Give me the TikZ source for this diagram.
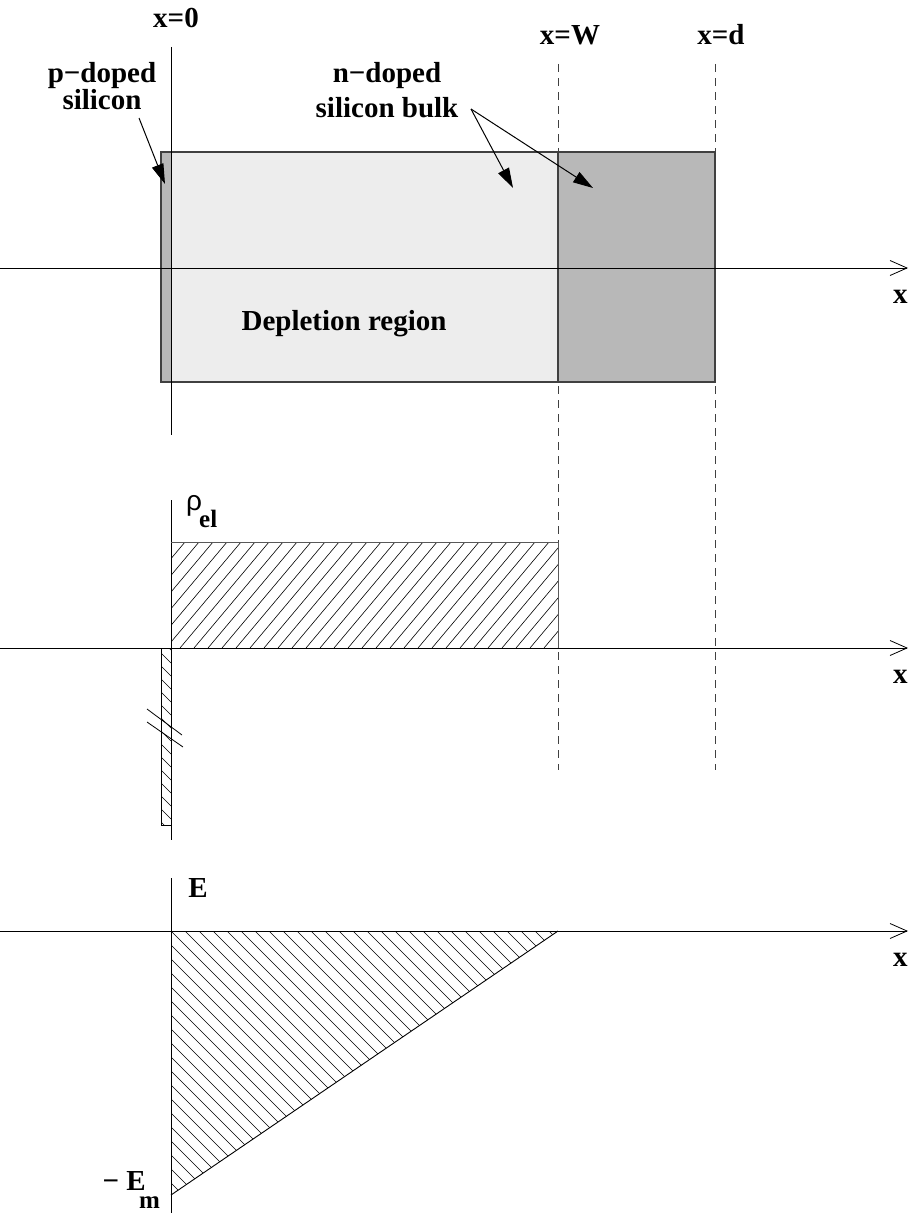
\documentclass[tikz,border=0pt]{standalone}
\usepackage{fontspec}
\setmainfont{Liberation Serif}
\newfontfamily\rhofont{Liberation Sans}
\usetikzlibrary{arrows.meta}
\tikzset{
  lbl/.style={font=\bfseries\fontsize{29}{33}\selectfont, inner sep=0pt},
  axisline/.style={line width=0.9pt, -{Straight Barb[length=17pt,width=15pt,line width=0.8pt]}},
  zeroline/.style={line width=0.9pt},
  guide/.style={line width=0.8pt, dash pattern=on 8pt off 6pt, draw=black!75},
  hatch/.style={line width=0.6pt},
  pointer/.style={line width=1pt, -{Triangle[length=20pt,width=12pt]}},
  boxedge/.style={draw=black!75, line width=1.1pt}
}
\begin{document}
\begin{tikzpicture}[x=1pt,y=-1pt]
\useasboundingbox (0,0) rectangle (909,1215);

% ---------- top: device ----------
\fill[black!28] (161,152) rectangle (171,382);
\fill[black!7] (171,152) rectangle (558,382);
\fill[black!28] (558,152) rectangle (715,382);
\draw[boxedge] (161,152) rectangle (715,382);
\draw[boxedge] (558,152) -- (558,382);

% dashed guides
\draw[guide] (558,64) -- (558,770);
\draw[guide] (715,64) -- (715,770);

% x=0 vertical lines
\draw[zeroline] (171,47) -- (171,435);
\draw[zeroline] (171,500) -- (171,840);
\draw[zeroline] (171,878) -- (171,1213);

% axes
\coordinate (a1s) at (0,268); \coordinate (a1e) at (908,268);
\coordinate (a2s) at (0,648); \coordinate (a2e) at (908,648);
\coordinate (a3s) at (0,931); \coordinate (a3e) at (908,931);
\draw[axisline] (a1s) -- (a1e);
\draw[axisline] (a2s) -- (a2e);
\draw[axisline] (a3s) -- (a3e);

% labels top
\node[lbl, anchor=base] (x0) at (176,28) {x=0};
\node[lbl, anchor=base] (xW) at (570,45) {x=W};
\node[lbl, anchor=base] (xd) at (721,45) {x=d};
\node[lbl, anchor=base west] (xl1) at (893,303) {x};
\node[lbl, anchor=base west] (xl2) at (893,683) {x};
\node[lbl, anchor=base west] (xl3) at (893,966) {x};

\node[lbl, anchor=base] (dep) at (344,330) {Depletion region};

\node[lbl, font=\bfseries\fontsize{29}{25}\selectfont, align=center, anchor=north] (pdop) at (102,62) {p−doped\\silicon};
\node[lbl, font=\bfseries\fontsize{29}{35}\selectfont, align=center, anchor=north] (ndop) at (387,62) {n−doped\\silicon bulk};

\coordinate (pstart) at (139,118);
\coordinate (ptip) at (165,184);
\draw[pointer] (pstart) -- (ptip);
\coordinate (nstart) at (471,109);
\coordinate (ntip1) at (513,188);
\coordinate (ntip2) at (593,188);
\draw[pointer] (nstart) -- (ntip1);
\draw[pointer] (nstart) -- (ntip2);

% ---------- middle: charge density ----------
\begin{scope}
  \clip (171,542) rectangle (558,648);
  \foreach \k in {0,...,36} {
    \draw[hatch] ({82+14*\k},648) -- ({82+14*\k+89},542);
  }
\end{scope}
\draw[line width=1pt, draw=black!65] (171,542) -- (558,542) -- (558,648);

\begin{scope}
  \clip (161,648) rectangle (171,825);
  \foreach \k in {0,...,15} {
    \draw[hatch] (161,{640+13*\k}) -- (171,{650+13*\k});
  }
\end{scope}
\draw[line width=0.7pt] (171,648) -- (161,648) -- (161,825) -- (171,825);
\draw[line width=0.8pt] (147,709) -- (182,735);
\draw[line width=0.8pt] (147,722) -- (183,747);

\node[inner sep=0pt, anchor=base west] (rho) at (186,510) {\rhofont\fontsize{28}{30}\selectfont ρ};
\node[lbl, font=\bfseries\fontsize{25}{30}\selectfont, anchor=base west] (el) at (199,527) {el};

% ---------- bottom: field ----------
\begin{scope}
  \clip (171,931) -- (558,931) -- (171,1195) -- cycle;
  \foreach \k in {0,...,48} {
    \draw[hatch] ({-95+14*\k},931) -- ({-95+14*\k+264},1195);
  }
\end{scope}
\draw[line width=0.9pt] (558,931) -- (171,1195);

\node[lbl, anchor=base] (E) at (198,897) {E};
\node[lbl, anchor=base east] (Em) at (146,1190) {− E};
\node[lbl, font=\bfseries\fontsize{25}{30}\selectfont, anchor=base west] (m) at (139,1208) {m};
\end{tikzpicture}
\end{document}
